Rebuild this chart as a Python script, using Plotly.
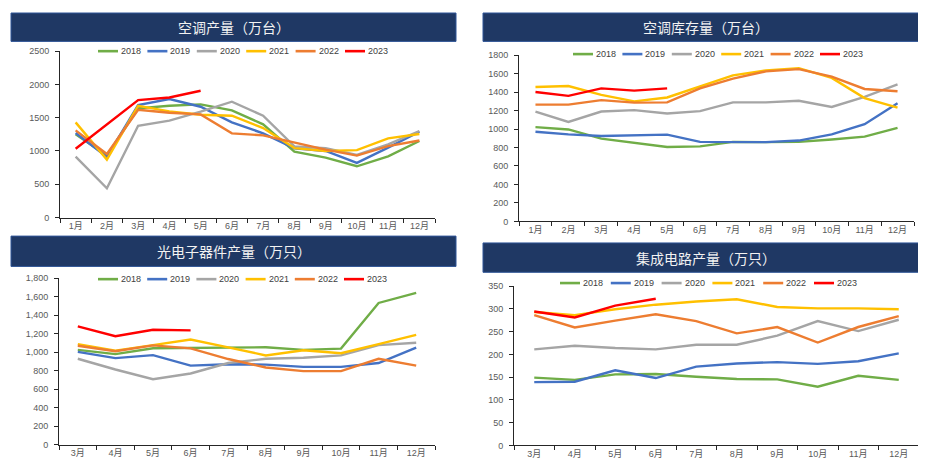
import plotly.graph_objects as go

W, H = 926, 465

years = ["2018", "2019", "2020", "2021", "2022", "2023"]
colors = ["#70AD47", "#4472C4", "#A5A5A5", "#FFC000", "#ED7D31", "#FF0000"]

months_12 = ["1月", "2月", "3月", "4月", "5月", "6月", "7月", "8月", "9月", "10月", "11月", "12月"]
months_10 = ["3月", "4月", "5月", "6月", "7月", "8月", "9月", "10月", "11月", "12月"]

# 空调产量（万台）
ac_prod_2018 = [1250, 930, 1640, 1680, 1700, 1610, 1400, 990, 900, 770, 920, 1150]
ac_prod_2019 = [1270, 910, 1690, 1780, 1665, 1430, 1265, 1040, 1000, 820, 1050, 1290]
ac_prod_2020 = [915, 440, 1378, 1455, 1590, 1740, 1530, 1068, 1040, 940, 1100, 1300]
ac_prod_2021 = [1430, 870, 1680, 1595, 1545, 1530, 1345, 1043, 1000, 1013, 1190, 1255]
ac_prod_2022 = [1310, 955, 1620, 1575, 1550, 1265, 1235, 1122, 1020, 930, 1073, 1157]
ac_prod_2023 = [1033, 1397, 1765, 1803, 1905]

# 空调库存量（万台）
ac_inv_2018 = [1020, 995, 896, 854, 805, 812, 861, 858, 861, 886, 918, 1013]
ac_inv_2019 = [971, 942, 925, 932, 939, 861, 858, 858, 875, 942, 1052, 1278]
ac_inv_2020 = [1189, 1076, 1189, 1204, 1168, 1193, 1288, 1288, 1306, 1239, 1348, 1482]
ac_inv_2021 = [1454, 1465, 1369, 1299, 1341, 1465, 1581, 1634, 1659, 1553, 1334, 1232]
ac_inv_2022 = [1264, 1264, 1313, 1285, 1288, 1440, 1546, 1624, 1648, 1567, 1433, 1408]
ac_inv_2023 = [1401, 1359, 1440, 1415, 1440]

# 光电子器件产量（万只）
opto_2018 = [1024, 978, 1041, 1045, 1045, 1052, 1024, 1038, 1532, 1641]
opto_2019 = [1002, 935, 967, 854, 868, 865, 840, 840, 882, 1048]
opto_2020 = [928, 812, 706, 769, 882, 928, 939, 964, 1076, 1101]
opto_2021 = [1087, 1016, 1076, 1136, 1052, 964, 1020, 988, 1087, 1186]
opto_2022 = [1069, 1009, 1073, 1041, 925, 833, 794, 794, 928, 854]
opto_2023 = [1278, 1172, 1242, 1235]

# 集成电路产量（万只）
ic_2018 = [149, 144, 156, 157, 151, 146, 145, 129, 153, 144]
ic_2019 = [139, 140, 165, 148, 173, 180, 183, 179, 185, 202]
ic_2020 = [211, 219, 214, 211, 221, 221, 241, 273, 251, 276]
ic_2021 = [293, 286, 299, 309, 316, 321, 304, 301, 301, 299]
ic_2022 = [286, 259, 274, 288, 273, 246, 260, 226, 260, 284]
ic_2023 = [294, 281, 307, 322]

titles = ["空调产量（万台）", "空调库存量（万台）", "光电子器件产量（万只）", "集成电路产量（万只）"]

panels = [
    dict(title=titles[0], cats=months_12,
         series=[ac_prod_2018, ac_prod_2019, ac_prod_2020, ac_prod_2021, ac_prod_2022, ac_prod_2023],
         yrange=[0, 2500], dtick=500, fmt="",
         plot=(52, 427, 39, 209), bar=(3, 448, 0, 29), leg=(90, 49.4, 39)),
    dict(title=titles[1], cats=months_12,
         series=[ac_inv_2018, ac_inv_2019, ac_inv_2020, ac_inv_2021, ac_inv_2022, ac_inv_2023],
         yrange=[0, 1800], dtick=200, fmt="",
         plot=(511, 906, 43, 213), bar=(475, 920, 0, 29), leg=(565, 49.4, 42)),
    dict(title=titles[2], cats=months_10,
         series=[opto_2018, opto_2019, opto_2020, opto_2021, opto_2022, opto_2023],
         yrange=[0, 1800], dtick=200, fmt=",",
         plot=(51, 427, 271, 441), bar=(3, 448, 228, 259), leg=(90, 49.2, 272)),
    dict(title=titles[3], cats=months_10,
         series=[ic_2018, ic_2019, ic_2020, ic_2021, ic_2022, ic_2023],
         yrange=[0, 350], dtick=50, fmt="",
         plot=(506, 911, 279, 442), bar=(475, 920, 235, 265), leg=(552, 50.8, 276)),
]


def px(x):
    return x / W


def py(y):
    return 1 - y / H


TICK_FONT = dict(family="Liberation Sans, Noto Sans CJK SC", size=9, color="#595959")
AXIS_COLOR = "#262626"

fig = go.Figure()
shapes = []
annotations = []
layout_axes = {}

for i, p in enumerate(panels):
    k = "" if i == 0 else str(i + 1)
    x0, x1, yt, yb = p["plot"]
    for yr, col, vals in zip(years, colors, p["series"]):
        fig.add_trace(go.Scatter(
            x=p["cats"][:len(vals)], y=vals, mode="lines", name=yr,
            line=dict(color=col, width=2.4), showlegend=False,
            xaxis="x" + k, yaxis="y" + k,
        ))
    n = len(p["cats"])
    layout_axes["xaxis" + k] = dict(
        domain=[px(x0), px(x1)], anchor="y" + k, type="category",
        categoryorder="array", categoryarray=p["cats"], range=[-0.5, n - 0.5],
        showline=True, linecolor=AXIS_COLOR, linewidth=1,
        ticks="outside", tickson="boundaries", ticklen=4, tickcolor=AXIS_COLOR,
        showgrid=False, zeroline=False, tickfont=TICK_FONT, fixedrange=True,
    )
    layout_axes["yaxis" + k] = dict(
        domain=[py(yb), py(yt)], anchor="x" + k, range=p["yrange"], dtick=p["dtick"],
        tick0=0, tickformat=p["fmt"],
        showline=True, linecolor=AXIS_COLOR, linewidth=1,
        ticks="outside", ticklen=4, tickcolor=AXIS_COLOR, ticklabelstandoff=4,
        showgrid=False, zeroline=False, tickfont=TICK_FONT, fixedrange=True,
    )
    # title bar
    bx0, bx1, by0, by1 = p["bar"]
    shapes.append(dict(type="rect", xref="paper", yref="paper",
                       x0=px(bx0), x1=px(bx1), y0=py(by1), y1=py(by0),
                       fillcolor="#1F3864", line=dict(color="#2F5597", width=1), layer="below"))
    annotations.append(dict(xref="paper", yref="paper", x=px((bx0 + bx1) / 2), y=py((by0 + by1) / 2),
                            text=p["title"], showarrow=False, xanchor="center", yanchor="middle",
                            font=dict(family="Noto Sans CJK SC", size=14, color="#F2F2F2")))
    # legend
    lx0, step, ly = p["leg"]
    for j, (yr, col) in enumerate(zip(years, colors)):
        sx = lx0 + j * step
        shapes.append(dict(type="line", xref="paper", yref="paper",
                           x0=px(sx), x1=px(sx + 20), y0=py(ly), y1=py(ly),
                           line=dict(color=col, width=2.6)))
        annotations.append(dict(xref="paper", yref="paper", x=px(sx + 21), y=py(ly),
                                text=yr, showarrow=False, xanchor="left", yanchor="middle",
                                font=dict(family="Liberation Sans", size=9, color="#404040")))

fig.update_layout(
    width=W, height=H, margin=dict(l=0, r=0, t=0, b=0),
    paper_bgcolor="white", plot_bgcolor="white", showlegend=False,
    shapes=shapes, annotations=annotations, **layout_axes,
)

fig.write_html("out.html")
